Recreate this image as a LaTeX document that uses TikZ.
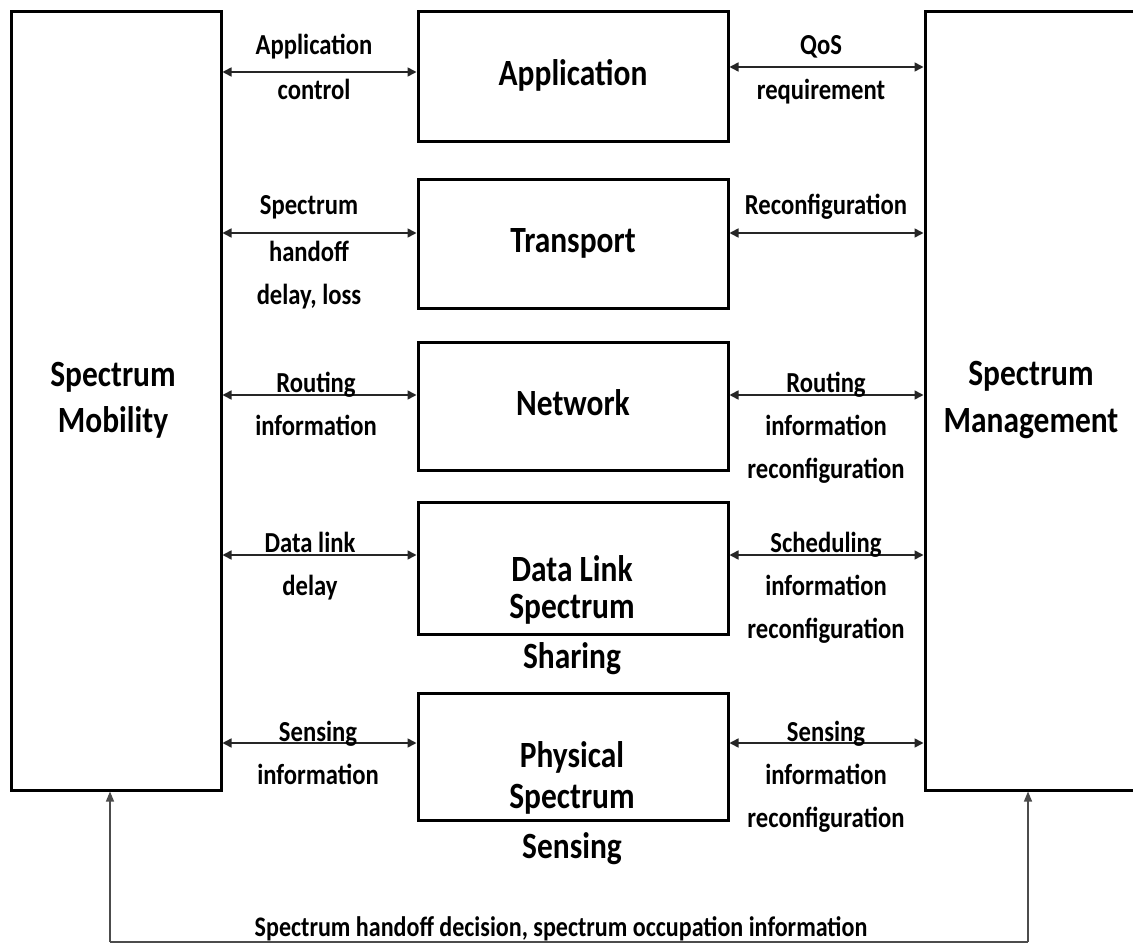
\documentclass[tikz,border=0pt]{standalone}
\usepackage{fontspec}
\setmainfont{Carlito}[FakeStretch=0.85]
\usetikzlibrary{arrows.meta}
\tikzset{
  box/.style={draw=black, line width=3pt, minimum width=310pt, inner sep=0pt},
  sidebox/.style={draw=black, line width=3pt, minimum height=778pt, inner sep=0pt},
  title/.style={font=\fontsize{37}{41}\selectfont\bfseries, align=center, anchor=base, inner sep=0pt},
  lbl/.style={font=\fontsize{29}{43}\selectfont\bfseries, align=center, anchor=base, inner sep=0pt},
  link/.style={{Triangle[length=9pt,width=9pt]}-{Triangle[length=9pt,width=9pt]}, line width=1.6pt, draw=black!85},
  feed/.style={-{Triangle[length=10pt,width=8pt]}, line width=1.2pt, draw=black!70},
}
\begin{document}
\begin{tikzpicture}[x=1pt,y=-1pt]
\clip (0,0) rectangle (1133,944);
\fill[white] (0,0) rectangle (1133,944);

% side blocks (label positions give the baseline of the last line)
\node[sidebox, minimum width=210pt] (mob) at (116,401) {};
\node[sidebox, minimum width=212pt] (mgmt) at (1031,401) {};
\node[title] (mobt) at (113,432) {Spectrum\\[5pt]Mobility};
\node[title] (mgmtt) at (1031,432) {Spectrum\\[6pt]Management};

% protocol layers
\node[box, minimum height=130pt] (app) at (573,77) {};
\node[box, minimum height=128pt] (trn) at (573,244) {};
\node[box, minimum height=128pt] (net) at (573,406) {};
\node[box, minimum height=132pt] (dll) at (573,568) {};
\node[box, minimum height=127pt] (phy) at (573,756.5) {};

\node[title] (appt) at (573,86) {Application};
\node[title] (trnt) at (573,253) {Transport};
\node[title] (nett) at (573,415) {Network};
\node[title] (dllt) at (572,668) {Data Link\\[-4pt]Spectrum\\[9pt]Sharing};
\node[title] (phyt) at (572,858) {Physical\\Spectrum\\[9pt]Sensing};

% links to spectrum mobility
\coordinate (la) at (0,72);
\coordinate (lt) at (0,233);
\coordinate (ln) at (0,395);
\coordinate (ld) at (0,555);
\coordinate (lp) at (0,743);
\draw[link] (mob.east |- la) -- (app.west |- la);
\draw[link] (mob.east |- lt) -- (trn.west |- lt);
\draw[link] (mob.east |- ln) -- (net.west |- ln);
\draw[link] (mob.east |- ld) -- (dll.west |- ld);
\draw[link] (mob.east |- lp) -- (phy.west |- lp);

% links to spectrum management
\coordinate (ra) at (0,67);
\draw[link] (app.east |- ra) -- (mgmt.west |- ra);
\draw[link] (trn.east |- lt) -- (mgmt.west |- lt);
\draw[link] (net.east |- ln) -- (mgmt.west |- ln);
\draw[link] (dll.east |- ld) -- (mgmt.west |- ld);
\draw[link] (phy.east |- lp) -- (mgmt.west |- lp);

% left labels
\node[lbl] (l1) at (314,100) {Application\\[2pt]control};
\node[lbl] (l2) at (309,305) {Spectrum\\[4pt]handoff\\delay, loss};
\node[lbl] (l3) at (316,435) {Routing\\information};
\node[lbl] (l4) at (310,595) {Data link\\delay};
\node[lbl] (l5) at (318,784) {Sensing\\information};

% right labels
\node[lbl] (r1) at (821,100) {QoS\\[2pt]requirement};
\node[lbl] (r2) at (826,215) {Reconfiguration};
\node[lbl] (r3) at (826,478) {Routing\\information\\reconfiguration};
\node[lbl] (r4) at (826,638) {Scheduling\\information\\reconfiguration};
\node[lbl] (r5) at (826,827) {Sensing\\information\\reconfiguration};

% feedback path along the bottom
\coordinate (fl) at (110,942);
\coordinate (fr) at (1028,942);
\draw[line width=1.2pt, draw=black!70] (fl) -- (fr);
\draw[feed] (fl) -- (fl |- mob.south);
\draw[feed] (fr) -- (fr |- mgmt.south);
\node[lbl, font=\fontsize{28.3}{34}\selectfont\bfseries] (fb) at (561,936) {Spectrum handoff decision, spectrum occupation information};
\end{tikzpicture}
\end{document}
